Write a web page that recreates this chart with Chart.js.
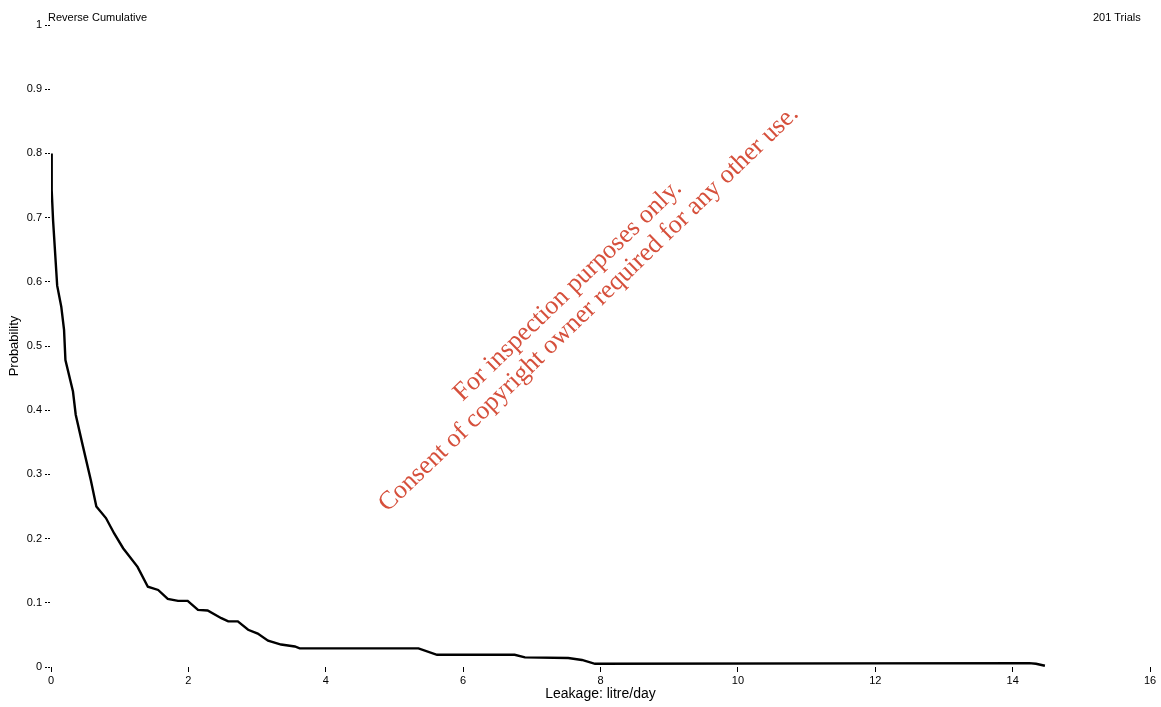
<!DOCTYPE html>
<html>
<head>
<meta charset="utf-8">
<script src="https://cdn.jsdelivr.net/npm/chart.js@4/dist/chart.umd.min.js"></script>
<style>
    body { margin: 0; background: #fff; }
    #wrap { position: relative; width: 1161px; height: 707px; }
    .hdr { position: absolute; top: 11px; font: 11px "Liberation Sans", Arial, sans-serif; color: #000; }
    .mark {
        position: absolute; white-space: nowrap; line-height: 1;
        font: 26px "Liberation Serif", "Times New Roman", serif; color: #d6503c;
        transform: translate(-50%, -50%) rotate(-44deg);
    }
</style>
</head>
<body>
<div id="wrap">
    <canvas id="chart" width="1161" height="707"></canvas>
    <div class="hdr" style="left:48px;">Reverse Cumulative</div>
    <div class="hdr" style="left:1093px;">201 Trials</div>
    <div class="mark" style="left:567px; top:290px;">For inspection purposes only.</div>
    <div class="mark" style="left:588px; top:308px;">Consent of copyright owner required for any other use.</div>
</div>
<script>
// reverse cumulative curve
const leakage = [0, 0.01, 0.03, 0.09, 0.15, 0.19, 0.21, 0.32, 0.36, 0.46, 0.58, 0.66, 0.80, 0.92, 1.05,
    1.26, 1.41, 1.56, 1.70, 1.85, 1.99, 2.14, 2.28, 2.48, 2.58, 2.72, 2.87, 3.01, 3.16, 3.35, 3.55, 3.62,
    5.35, 5.62, 6.75, 6.90, 7.53, 7.73, 7.92, 14.24, 14.34, 14.47];
const probability = [0.8, 0.743, 0.696, 0.594, 0.561, 0.525, 0.478, 0.429, 0.393, 0.346, 0.291, 0.25, 0.232, 0.208, 0.185,
    0.156, 0.125, 0.12, 0.106, 0.103, 0.103, 0.089, 0.088, 0.076, 0.071, 0.071, 0.058, 0.052, 0.041, 0.035, 0.032, 0.029,
    0.029, 0.019, 0.019, 0.015, 0.014, 0.011, 0.005, 0.006, 0.005, 0.002];

const xTitle = "Leakage: litre/day";
const yTitle = "Probability";

const points = leakage.map((x, i) => ({ x: x, y: probability[i] }));
const tickFont = { family: "Liberation Sans", size: 11 };

new Chart(document.getElementById("chart"), {
    type: "line",
    data: {
        datasets: [{
            data: points,
            borderColor: "#000",
            borderWidth: 2.4,
            pointRadius: 0,
            tension: 0,
            fill: false
        }]
    },
    options: {
        responsive: false,
        animation: false,
        devicePixelRatio: 1,
        layout: { padding: { top: 25, right: 11, left: 0, bottom: 0 } },
        plugins: { legend: { display: false }, tooltip: { enabled: false } },
        scales: {
            x: {
                type: "linear",
                min: 0,
                max: 16,
                afterFit: s => { s.height = 40; },
                ticks: { stepSize: 2, color: "#000", font: tickFont, padding: 2, maxRotation: 0 },
                grid: { drawOnChartArea: false, tickLength: 5, color: "#000" },
                border: { display: false },
                title: {
                    display: true, text: xTitle, color: "#000",
                    font: { family: "Liberation Sans", size: 14 },
                    padding: { top: 0, bottom: 4 }
                }
            },
            y: {
                min: 0,
                max: 1,
                afterFit: s => { s.width = 51; },
                ticks: {
                    stepSize: 0.1, color: "#000", font: tickFont, padding: 3,
                    callback: v => String(Math.round(v * 10) / 10)
                },
                grid: { drawOnChartArea: false, tickLength: 6, color: "#000", tickBorderDash: [2, 1] },
                border: { display: false },
                title: {
                    display: true, text: yTitle, color: "#000",
                    font: { family: "Liberation Sans", size: 13 },
                    padding: { top: 7, bottom: 0 }
                }
            }
        }
    }
});
</script>
</body>
</html>
